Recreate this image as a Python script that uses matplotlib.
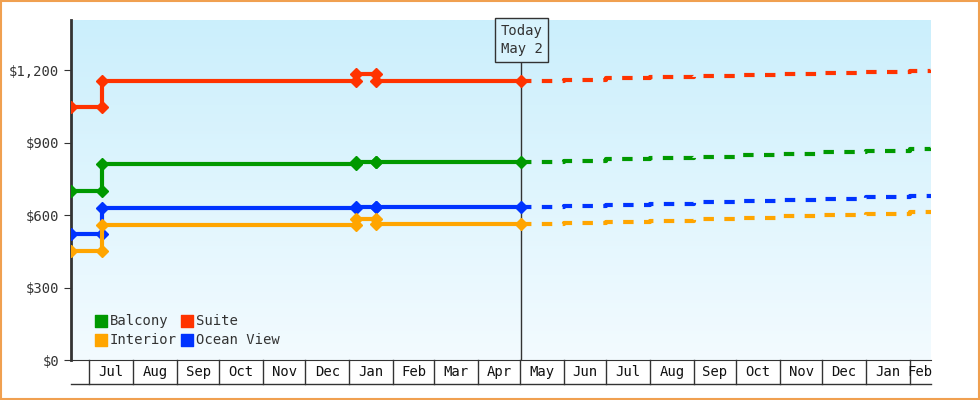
import numpy as np
import matplotlib.pyplot as plt
import matplotlib.dates as mdates
from datetime import date

# ===== data =====
hist_dates = ['2023-06-18', '2023-07-10', '2023-07-10', '2024-01-06', '2024-01-06',
              '2024-01-20', '2024-01-20', '2024-05-02']
suite = [1045, 1045, 1155, 1155, 1185, 1185, 1155, 1155]
balcony = [700, 700, 812, 812, 820, 820, 820, 820]
ocean = [520, 520, 630, 630, 633, 633, 633, 633]
interior = [450, 450, 558, 558, 583, 583, 563, 563]

fc_dates = ['2024-05-02', '2024-06-01', '2024-07-01', '2024-08-01', '2024-09-01', '2024-10-01',
            '2024-11-01', '2024-12-01', '2025-01-01', '2025-02-01', '2025-02-16']
suite_fc = [1155, 1160, 1165, 1170, 1175, 1179, 1183, 1188, 1193, 1197, 1200]
balcony_fc = [820, 825, 830, 836, 842, 848, 854, 860, 866, 872, 878]
ocean_fc = [633, 638, 642, 647, 652, 657, 662, 667, 673, 679, 685]
interior_fc = [563, 567, 572, 577, 583, 589, 594, 600, 606, 612, 620]

month_labels = ['Jul', 'Aug', 'Sep', 'Oct', 'Nov', 'Dec', 'Jan', 'Feb', 'Mar', 'Apr',
                'May', 'Jun', 'Jul', 'Aug', 'Sep', 'Oct', 'Nov', 'Dec', 'Jan', 'Feb']
y_ticks = [0, 300, 600, 900, 1200]

colors = {'Balcony': '#009900', 'Suite': '#ff3300', 'Interior': '#ffa500', 'Ocean View': '#0033ff'}
font = 'DejaVu Sans Mono'
ink = '#333333'

hd = mdates.date2num(np.array(hist_dates, dtype='datetime64[D]'))
fd = mdates.date2num(np.array(fc_dates, dtype='datetime64[D]'))
x0 = mdates.date2num(date(2023, 6, 18))
x1 = mdates.date2num(date(2025, 2, 16))
today = mdates.date2num(date(2024, 5, 2))

fig = plt.figure(figsize=(9.8, 4), dpi=100)
ax = fig.add_axes([71 / 980, 40 / 400, 860 / 980, 340 / 400])
ax.set_xlim(x0, x1)
ax.set_ylim(0, 1407)

# gradient background
grad = np.linspace(0, 1, 256).reshape(-1, 1)
c_top = np.array([0xcb, 0xef, 0xfc]) / 255
c_bot = np.array([0xf3, 0xfb, 0xff]) / 255
img = c_bot + (c_top - c_bot) * grad
ax.imshow(img[:, None, :].repeat(2, axis=1), extent=[x0, x1, 0, 1407], origin='lower',
          aspect='auto', zorder=0)

series = [('Suite', suite, suite_fc), ('Balcony', balcony, balcony_fc),
          ('Ocean View', ocean, ocean_fc), ('Interior', interior, interior_fc)]
for name, h, f in series:
    c = colors[name]
    ax.plot(hd, h, color=c, lw=3, marker='D', ms=6, zorder=3)
    ax.plot(fd, f, color=c, lw=3, drawstyle='steps-post', dashes=(2.5, 2.5), zorder=3)

# today line and box
ax.axvline(today, color=ink, lw=1, zorder=2)
ax.text(today, 1325, 'Today\nMay 2', ha='center', va='center', family=font, fontsize=10,
        color=ink, linespacing=1.4,
        bbox=dict(boxstyle='square,pad=0.4', fc='#d8f3fd', ec=ink, lw=1), zorder=4)

# axes styling
for s in ['top', 'right']:
    ax.spines[s].set_visible(False)
ax.spines['left'].set_color(ink)
ax.spines['left'].set_linewidth(2)
ax.spines['bottom'].set_color(ink)
ax.set_yticks(y_ticks)
ax.set_yticklabels(['$' + format(v, ',') for v in y_ticks], family=font, fontsize=10, color=ink)
ax.tick_params(axis='y', length=5, color=ink)
ax.set_xticks([])

# month boxes under axis
trans = ax.get_xaxis_transform()
starts = []
y, m = 2023, 7
for i in range(len(month_labels) + 1):
    starts.append(mdates.date2num(date(y, m, 1)))
    m += 1
    if m > 12:
        m, y = 1, y + 1
box_h = -24 / 340
for s in starts:
    if s <= x1:
        ax.plot([s, s], [0, box_h], color=ink, lw=1, transform=trans, clip_on=False)
ax.plot([x0, x1], [box_h, box_h], color=ink, lw=1, transform=trans, clip_on=False)
for i, lab in enumerate(month_labels):
    mid = (starts[i] + min(starts[i + 1], x1)) / 2
    ax.text(mid, box_h / 2, lab, ha='center', va='center', transform=trans,
            family=font, fontsize=10, color='#111111')

# legend
leg = [('Balcony', 0.03, 0.115), ('Suite', 0.13, 0.115),
       ('Interior', 0.03, 0.058), ('Ocean View', 0.13, 0.058)]
for name, lx, ly in leg:
    ax.scatter([lx + 0.005], [ly], marker='s', s=80, color=colors[name],
               transform=ax.transAxes, zorder=5)
    ax.text(lx + 0.015, ly, name, transform=ax.transAxes, va='center', family=font,
            fontsize=10, color=ink, zorder=5)

# orange outer border
fig.patches.append(plt.Rectangle((0.001, 0.002), 0.998, 0.996, transform=fig.transFigure,
                                 fill=False, ec='#f0a050', lw=1.5))

fig.savefig('out.png', dpi=100)
